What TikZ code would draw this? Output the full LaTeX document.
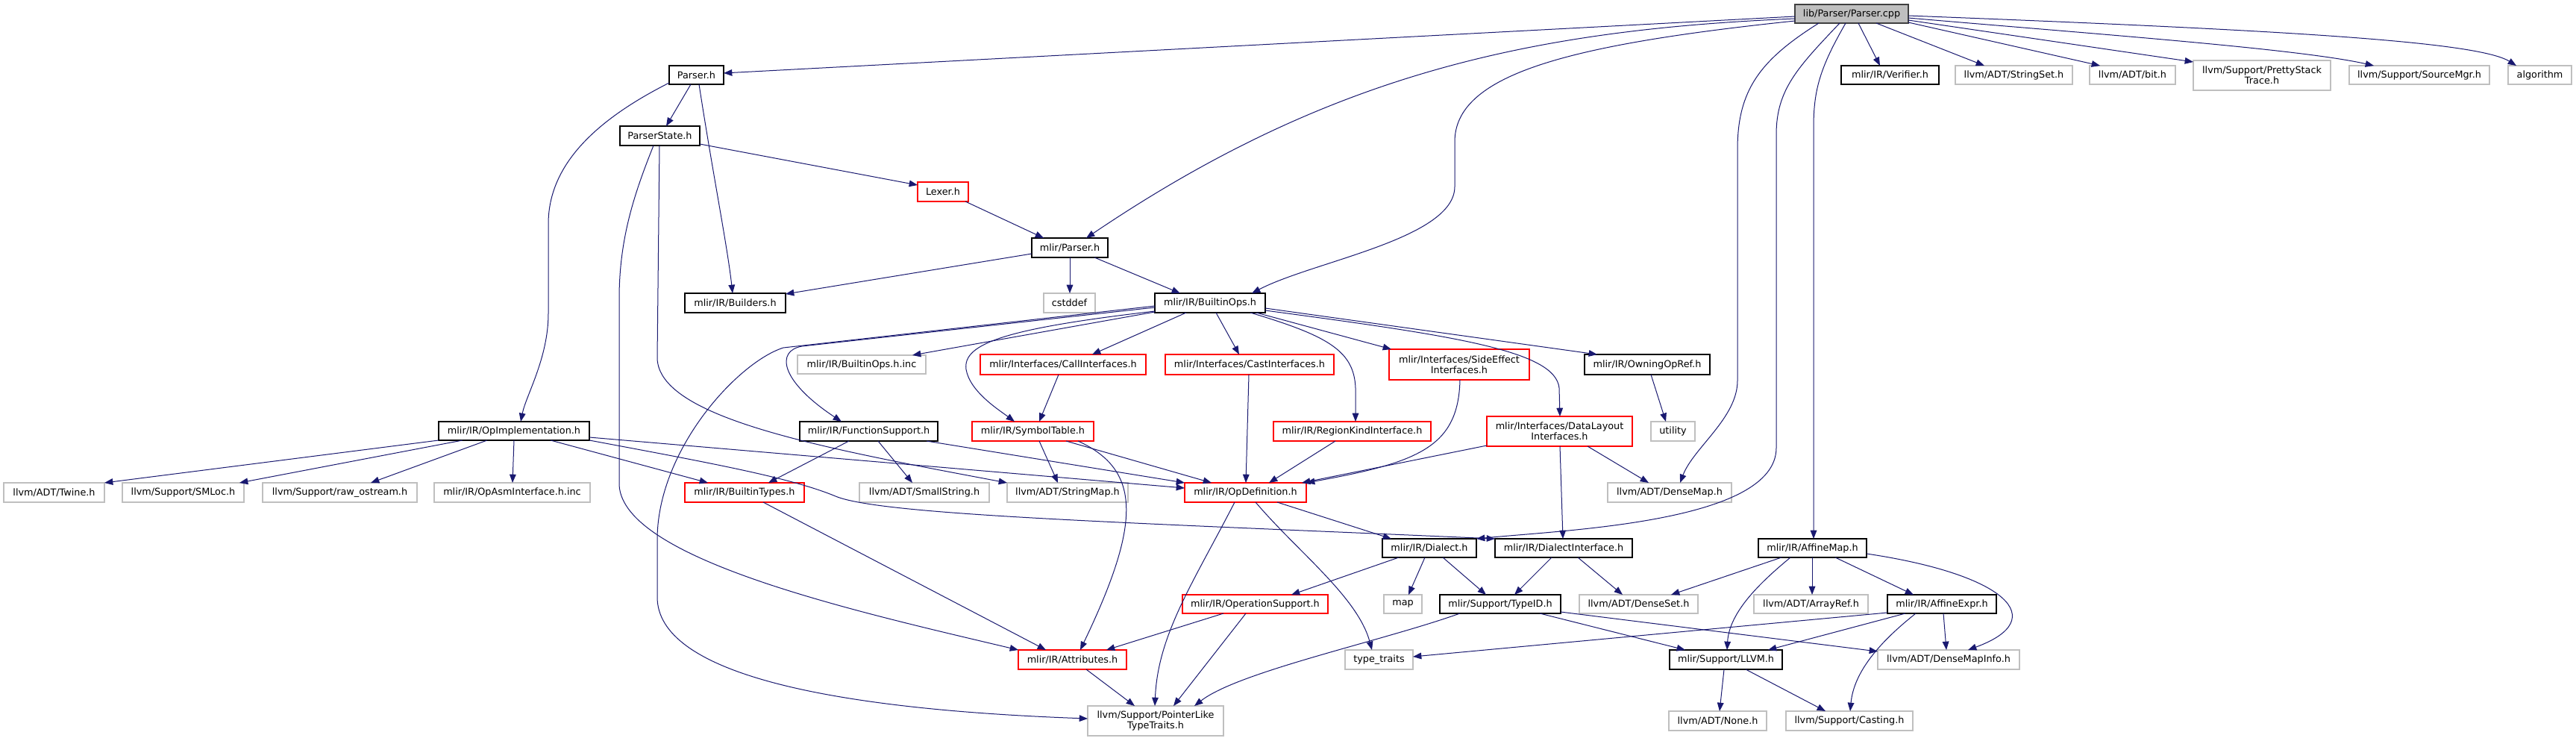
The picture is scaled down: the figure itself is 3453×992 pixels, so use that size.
\documentclass[tikz,border=0pt]{standalone}
\usepackage{fontspec}
\setmainfont{DejaVu Sans}
\usetikzlibrary{arrows.meta}
\definecolor{edgec}{HTML}{191970}
\definecolor{grayb}{HTML}{BFBFBF}
\definecolor{redb}{HTML}{FF0000}
\definecolor{rootf}{HTML}{BFBFBF}
\newcommand\mkbox[7]{\node[#1, minimum width={(#5-#3)*0.75pt}, minimum height={(#6-#4)*0.75pt}] (#2) at ({(#3+#5)/2},{(#4+#6)/2}) {#7};}
\begin{document}
\begin{tikzpicture}[x=0.75pt,y=-0.75pt,
  nbase/.style={rectangle, inner sep=0pt, outer sep=0pt, line width=0.9pt, fill=white, align=center, font=\fontsize{9.6pt}{10.5pt}\selectfont},
  gbox/.style={nbase, draw=grayb},
  kbox/.style={nbase, draw=black},
  rbox/.style={nbase, draw=redb},
  rootbox/.style={nbase, draw=black!75, fill=rootf},
  e/.style={draw=edgec, line width=0.75pt, -{Triangle[length=8.5pt,width=6.5pt]}}]
\fill[white] (0,0) rectangle (3453,992);
\useasboundingbox (0,0) rectangle (3453,992);
% nodes
\mkbox{rootbox}{root}{2406}{6}{2558}{31}{lib/Parser/Parser.cpp}
\mkbox{kbox}{parserh}{897}{88}{970}{113}{Parser.h}
\mkbox{kbox}{verifier}{2468}{88}{2599}{113}{mlir/IR/Verifier.h}
\mkbox{gbox}{stringset}{2621}{88}{2778}{113}{llvm/ADT/StringSet.h}
\mkbox{gbox}{bit}{2801}{88}{2916}{113}{llvm/ADT/bit.h}
\mkbox{gbox}{pretty}{2940}{81}{3124}{121}{llvm/Support/PrettyStack\\Trace.h}
\mkbox{gbox}{srcmgr}{3149}{88}{3337}{113}{llvm/Support/SourceMgr.h}
\mkbox{gbox}{algo}{3362}{88}{3447}{113}{algorithm}
\mkbox{kbox}{pstate}{831}{169}{938}{195}{ParserState.h}
\mkbox{rbox}{lexer}{1230}{244}{1298}{270}{Lexer.h}
\mkbox{kbox}{mparser}{1383}{319}{1485}{345}{mlir/Parser.h}
\mkbox{kbox}{builders}{918}{393}{1053}{419}{mlir/IR/Builders.h}
\mkbox{gbox}{cstddef}{1399}{393}{1468}{419}{cstddef}
\mkbox{kbox}{bops}{1548}{393}{1696}{419}{mlir/IR/BuiltinOps.h}
\mkbox{gbox}{bopsinc}{1069}{476}{1241}{501}{mlir/IR/BuiltinOps.h.inc}
\mkbox{rbox}{callif}{1314}{475}{1536}{502}{mlir/Interfaces/CallInterfaces.h}
\mkbox{rbox}{castif}{1562}{475}{1788}{502}{mlir/Interfaces/CastInterfaces.h}
\mkbox{rbox}{sideeff}{1862}{468}{2050}{509}{mlir/Interfaces/SideEffect\\Interfaces.h}
\mkbox{kbox}{owning}{2124}{475}{2292}{502}{mlir/IR/OwningOpRef.h}
\mkbox{kbox}{opimpl}{588}{565}{790}{590}{mlir/IR/OpImplementation.h}
\mkbox{kbox}{funcsup}{1072}{565}{1257}{591}{mlir/IR/FunctionSupport.h}
\mkbox{rbox}{symtab}{1303}{565}{1466}{591}{mlir/IR/SymbolTable.h}
\mkbox{rbox}{regionk}{1707}{565}{1918}{591}{mlir/IR/RegionKindInterface.h}
\mkbox{rbox}{datalayout}{1993}{558}{2188}{598}{mlir/Interfaces/DataLayout\\Interfaces.h}
\mkbox{gbox}{utility}{2213}{565}{2272}{591}{utility}
\mkbox{gbox}{twine}{5}{647}{140}{673}{llvm/ADT/Twine.h}
\mkbox{gbox}{smloc}{164}{647}{327}{673}{llvm/Support/SMLoc.h}
\mkbox{gbox}{rawos}{352}{647}{559}{673}{llvm/Support/raw\_ostream.h}
\mkbox{gbox}{opasm}{582}{647}{791}{673}{mlir/IR/OpAsmInterface.h.inc}
\mkbox{rbox}{btypes}{918}{647}{1078}{673}{mlir/IR/BuiltinTypes.h}
\mkbox{gbox}{smallstr}{1152}{647}{1326}{673}{llvm/ADT/SmallString.h}
\mkbox{gbox}{strmap}{1350}{647}{1512}{673}{llvm/ADT/StringMap.h}
\mkbox{rbox}{opdef}{1588}{647}{1751}{673}{mlir/IR/OpDefinition.h}
\mkbox{gbox}{densemap}{2155}{647}{2321}{673}{llvm/ADT/DenseMap.h}
\mkbox{kbox}{dialect}{1853}{722}{1979}{747}{mlir/IR/Dialect.h}
\mkbox{kbox}{dialectif}{2004}{722}{2188}{747}{mlir/IR/DialectInterface.h}
\mkbox{kbox}{affmap}{2357}{722}{2502}{747}{mlir/IR/AffineMap.h}
\mkbox{rbox}{opsupport}{1585}{797}{1780}{822}{mlir/IR/OperationSupport.h}
\mkbox{gbox}{map}{1855}{797}{1906}{822}{map}
\mkbox{kbox}{typeid}{1930}{797}{2092}{822}{mlir/Support/TypeID.h}
\mkbox{gbox}{denseset}{2117}{797}{2276}{822}{llvm/ADT/DenseSet.h}
\mkbox{gbox}{arrayref}{2351}{797}{2504}{822}{llvm/ADT/ArrayRef.h}
\mkbox{kbox}{affexpr}{2530}{797}{2676}{822}{mlir/IR/AffineExpr.h}
\mkbox{rbox}{attrs}{1365}{871}{1510}{897}{mlir/IR/Attributes.h}
\mkbox{gbox}{typetraits}{1803}{871}{1894}{897}{type\_traits}
\mkbox{kbox}{llvmh}{2238}{871}{2389}{897}{mlir/Support/LLVM.h}
\mkbox{gbox}{dmapinfo}{2517}{871}{2707}{897}{llvm/ADT/DenseMapInfo.h}
\mkbox{gbox}{ptrlike}{1458}{946}{1640}{986}{llvm/Support/PointerLike\\TypeTraits.h}
\mkbox{gbox}{none}{2237}{953}{2368}{979}{llvm/ADT/None.h}
\mkbox{gbox}{casting}{2394}{953}{2564}{979}{llvm/Support/Casting.h}
% root edges
\draw[e] (root.west |- 0,22) -- (parserh.east |- 0,98);
\draw[e] (root.west |- 0,25) .. controls (2050,40) and (1780,100) .. (mparser.north -| 1456,0);
\draw[e] (root.west |- 0,28) .. controls (2100,60) and (1950,100) .. (1950,190) -- (1950,250) .. controls (1950,320) and (1760,350) .. (bops.north -| 1678,0);
\draw[e] (root.south -| 2438,0) .. controls (2360,80) and (2329,120) .. (2329,200) -- (2329,510) .. controls (2329,560) and (2270,600) .. (densemap.north -| 2252,0);
\draw[e] (root.south -| 2466,0) .. controls (2410,90) and (2381,120) .. (2381,180) -- (2381,600) .. controls (2381,700) and (2100,710) .. (dialect.north east);
\draw[e] (root.south -| 2474,0) .. controls (2440,90) and (2431,120) .. (2431,170) -- (affmap.north -| 2431,0);
\draw[e] (root.south -| 2491,0) -- (verifier.north -| 2520,0);
\draw[e] (root.south -| 2515,0) -- (stringset.north -| 2660,0);
\draw[e] (root.east |- 0,30) -- (bit.north -| 2815,0);
\draw[e] (root.east |- 0,27) -- (pretty.west |- 0,83);
\draw[e] (root.east |- 0,24) .. controls (2800,45) and (3080,65) .. (srcmgr.north -| 3182,0);
\draw[e] (root.east |- 0,21) .. controls (3050,40) and (3320,55) .. (algo.north -| 3373,0);
% Parser.h
\draw[e] (parserh.south -| 926,0) -- (pstate.north -| 893,0);
\draw[e] (parserh.south -| 937,0) .. controls (955,230) and (975,330) .. (builders.north -| 982,0);
\draw[e] (parserh.west |- 0,111) .. controls (800,160) and (735,220) .. (735,300) -- (735,420) .. controls (735,480) and (705,530) .. (opimpl.north -| 698,0);
% ParserState.h
\draw[e] (pstate.east |- 0,193) -- (lexer.west |- 0,248);
\draw[e] (pstate.south -| 876,0) .. controls (850,260) and (830,320) .. (830,400) -- (830,650) .. controls (835,750) and (1150,820) .. (attrs.north west);
\draw[e] (pstate.south -| 884,0) -- (881,480) .. controls (883,560) and (1100,600) .. (strmap.north west);
% Lexer, mlir/Parser.h
\draw[e] (lexer.south -| 1294,0) -- (mparser.north -| 1399,0);
\draw[e] (mparser.west |- 0,340) -- (builders.east |- 0,394);
\draw[e] (mparser.south -| 1434,0) -- (cstddef.north -| 1434,0);
\draw[e] (mparser.south -| 1467,0) -- (bops.north -| 1582,0);
% BuiltinOps.h
\draw[e] (bops.west |- 0,418) -- (bopsinc.north -| 1223,0);
\draw[e] (bops.west |- 0,412) -- (1075,464) .. controls (1040,470) and (1045,510) .. (funcsup.north -| 1128,0);
\draw[e] (bops.west |- 0,410) -- (1050,466) .. controls (990,485) and (883,600) .. (881,720) -- (881,800) .. controls (881,900) and (1100,950) .. (ptrlike.west |- 0,963);
\draw[e] (bops.west |- 0,417) .. controls (1350,440) and (1290,460) .. (1295,495) .. controls (1300,525) and (1340,550) .. (symtab.north -| 1360,0);
\draw[e] (bops.south -| 1590,0) -- (callif.north -| 1464,0);
\draw[e] (bops.south -| 1630,0) -- (castif.north -| 1661,0);
\draw[e] (bops.south -| 1676,0) .. controls (1780,450) and (1815,470) .. (1817,520) -- (regionk.north -| 1817,0);
\draw[e] (bops.south -| 1684,0) -- (sideeff.north -| 1865,0);
\draw[e] (bops.east |- 0,416) .. controls (1950,450) and (2085,470) .. (2090,520) -- (datalayout.north -| 2091,0);
\draw[e] (bops.east |- 0,413) -- (owning.north -| 2141,0);
% second row
\draw[e] (owning.south -| 2213,0) -- (utility.north -| 2233,0);
\draw[e] (callif.south -| 1419,0) -- (symtab.north -| 1393,0);
\draw[e] (castif.south -| 1674,0) -- (opdef.north -| 1670,0);
\draw[e] (sideeff.south -| 1957,0) .. controls (1955,600) and (1900,620) .. (opdef.north east);
\draw[e] (regionk.south -| 1790,0) -- (opdef.north -| 1701,0);
\draw[e] (datalayout.west |- 0,597) -- (opdef.north -| 1745,0);
\draw[e] (datalayout.south -| 2091,0) -- (dialectif.north -| 2095,0);
\draw[e] (datalayout.south -| 2128,0) -- (densemap.north -| 2210,0);
\draw[e] (symtab.south -| 1429,0) -- (opdef.north -| 1624,0);
\draw[e] (symtab.south -| 1393,0) -- (strmap.north -| 1418,0);
\draw[e] (symtab.south -| 1445,0) .. controls (1530,630) and (1530,700) .. (attrs.north -| 1448,0);
\draw[e] (funcsup.south -| 1138,0) -- (btypes.north -| 1030,0);
\draw[e] (funcsup.south -| 1177,0) -- (smallstr.north -| 1223,0);
\draw[e] (funcsup.south -| 1242,0) -- (opdef.north west);
% OpImplementation.h
\draw[e] (opimpl.south west) -- (twine.north east);
\draw[e] (opimpl.south -| 620,0) -- (smloc.north -| 321,0);
\draw[e] (opimpl.south -| 653,0) -- (rawos.north -| 497,0);
\draw[e] (opimpl.south -| 689,0) -- (opasm.north -| 687,0);
\draw[e] (opimpl.south -| 738,0) -- (btypes.north -| 949,0);
\draw[e] (opimpl.east |- 0,586) -- (opdef.west |- 0,654);
\draw[e] (opimpl.south east) .. controls (950,620) and (1060,640) .. (1120,665) .. controls (1180,690) and (1500,700) .. (dialectif.north west);
% lower part
\draw[e] (btypes.south -| 1023,0) -- (attrs.north -| 1402,0);
\draw[e] (opdef.south -| 1712,0) -- (dialect.north -| 1865,0);
\draw[e] (opdef.south -| 1655,0) .. controls (1600,780) and (1552,850) .. (ptrlike.north -| 1548,0);
\draw[e] (opdef.south -| 1683,0) .. controls (1740,740) and (1820,800) .. (typetraits.north -| 1839,0);
\draw[e] (dialect.south -| 1875,0) -- (opsupport.north -| 1731,0);
\draw[e] (dialect.south -| 1910,0) -- (map.north -| 1888,0);
\draw[e] (dialect.south -| 1934,0) -- (typeid.north -| 1992,0);
\draw[e] (dialectif.south -| 2080,0) -- (typeid.north -| 2030,0);
\draw[e] (dialectif.south -| 2115,0) -- (denseset.north -| 2175,0);
\draw[e] (opsupport.south -| 1640,0) -- (attrs.north -| 1483,0);
\draw[e] (opsupport.south -| 1670,0) -- (ptrlike.north -| 1573,0);
\draw[e] (attrs.south -| 1456,0) -- (ptrlike.north -| 1521,0);
\draw[e] (typeid.south -| 1957,0) .. controls (1850,860) and (1660,900) .. (ptrlike.north -| 1601,0);
\draw[e] (typeid.south -| 2064,0) -- (llvmh.north -| 2259,0);
\draw[e] (typeid.east |- 0,820) -- (dmapinfo.west |- 0,873);
\draw[e] (affmap.south -| 2388,0) -- (denseset.north -| 2240,0);
\draw[e] (affmap.south -| 2400,0) .. controls (2360,780) and (2318,820) .. (llvmh.north -| 2315,0);
\draw[e] (affmap.south -| 2429,0) -- (arrayref.north -| 2429,0);
\draw[e] (affmap.south -| 2460,0) -- (affexpr.north -| 2565,0);
\draw[e] (affmap.east |- 0,742) .. controls (2690,770) and (2750,830) .. (dmapinfo.north -| 2638,0);
\draw[e] (affexpr.west |- 0,821) -- (typetraits.east |- 0,880);
\draw[e] (affexpr.south -| 2554,0) -- (llvmh.north -| 2370,0);
\draw[e] (affexpr.south -| 2568,0) .. controls (2520,860) and (2485,900) .. (casting.north -| 2480,0);
\draw[e] (affexpr.south -| 2605,0) -- (dmapinfo.north -| 2609,0);
\draw[e] (llvmh.south -| 2311,0) -- (none.north -| 2305,0);
\draw[e] (llvmh.south -| 2340,0) -- (casting.north -| 2447,0);
\end{tikzpicture}
\end{document}
